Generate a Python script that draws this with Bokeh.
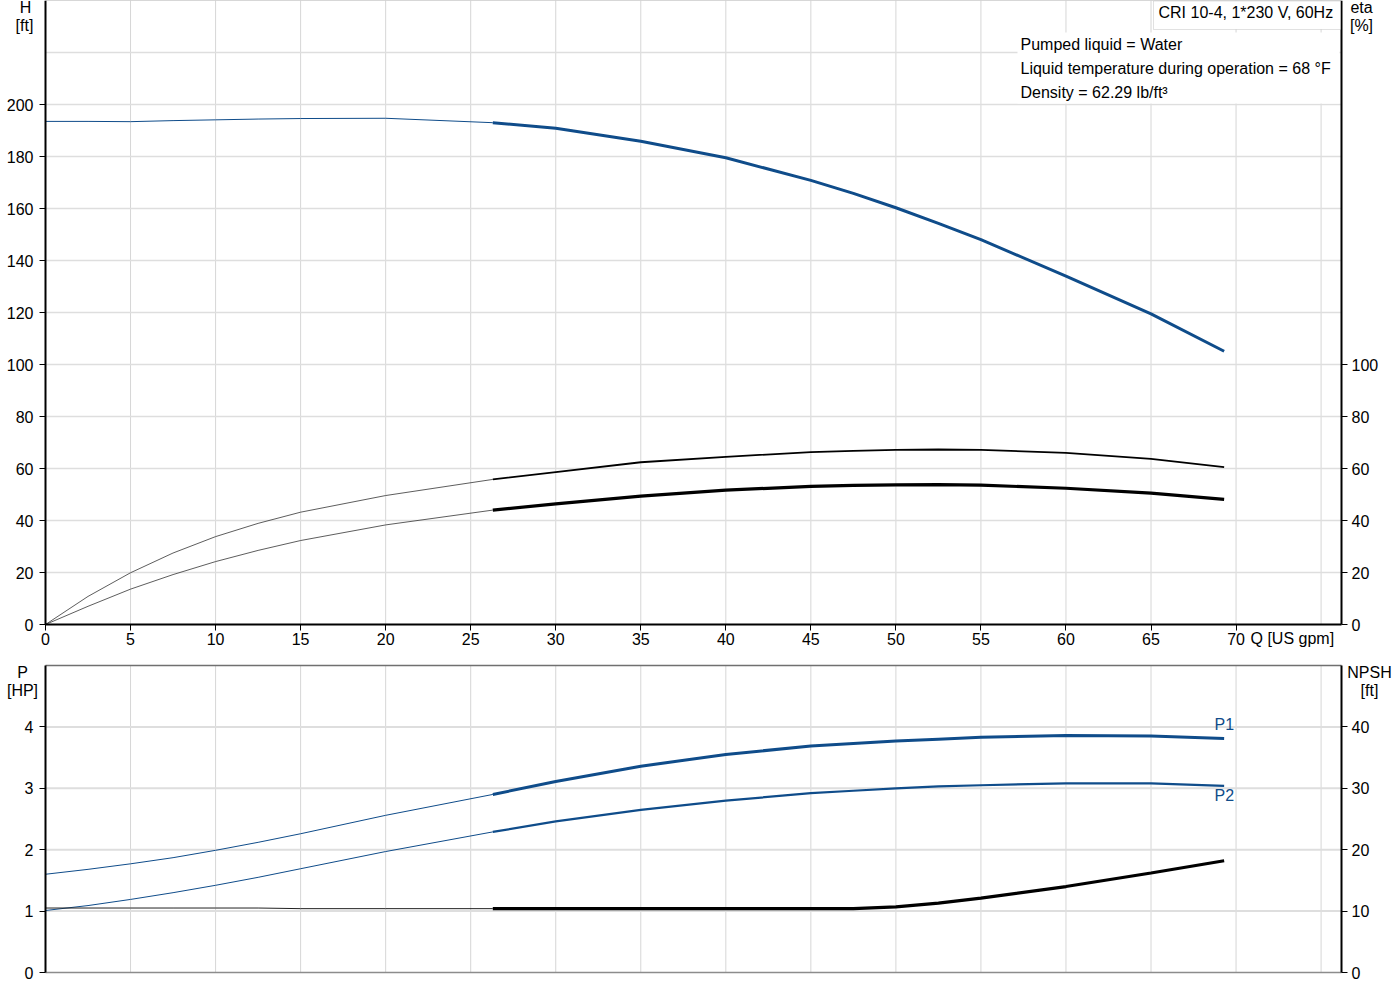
from bokeh.plotting import figure
from bokeh.models import Range1d, LinearAxis, FixedTicker, Label, BoxAnnotation
from bokeh.layouts import column
from bokeh.embed import file_html
from bokeh.resources import INLINE

# ---------------- data ----------------
q = [0, 2.5, 5, 7.5, 10, 12.5, 15, 20, 26.3, 30, 35, 40, 45, 47.5, 50, 52.5, 55, 60, 65, 69.3]
head_ft = [193.5, 193.5, 193.4, 193.8, 194.1, 194.4, 194.6, 194.7, 193.0, 190.9, 185.9, 179.5, 170.8,
           165.8, 160.3, 154.3, 148.0, 134.0, 119.5, 105.1]
eta_upper = [0, 10.8, 19.9, 27.5, 33.8, 38.9, 43.2, 49.6, 55.8, 58.6, 62.4, 64.5, 66.3,
             66.8, 67.2, 67.3, 67.2, 66.0, 63.7, 60.5]
eta_lower = [0, 7.0, 13.6, 19.2, 24.2, 28.5, 32.3, 38.3, 44.0, 46.4, 49.4, 51.7, 53.1,
             53.5, 53.7, 53.8, 53.6, 52.4, 50.5, 48.1]
p1_hp = [1.60, 1.68, 1.77, 1.87, 1.99, 2.12, 2.26, 2.56, 2.90, 3.11, 3.36, 3.55, 3.69,
         3.73, 3.77, 3.80, 3.83, 3.86, 3.85, 3.81]
p2_hp = [1.01, 1.09, 1.19, 1.30, 1.42, 1.55, 1.69, 1.97, 2.29, 2.46, 2.65, 2.80, 2.92,
         2.96, 3.00, 3.03, 3.05, 3.08, 3.08, 3.04]
npsh_ft = [10.5, 10.5, 10.5, 10.5, 10.5, 10.5, 10.4, 10.4, 10.4, 10.4, 10.4, 10.4, 10.4,
           10.4, 10.7, 11.3, 12.1, 14.0, 16.2, 18.2]
op_start = 26.3  # start of the bold (operating) part of each curve

x_ticks = [0, 5, 10, 15, 20, 25, 30, 35, 40, 45, 50, 55, 60, 65, 70]
x_grid = [5, 10, 15, 20, 25, 30, 35, 40, 45, 50, 55, 60, 65, 70, 75]
h_ticks = [0, 20, 40, 60, 80, 100, 120, 140, 160, 180, 200]
h_grid = [20, 40, 60, 80, 100, 120, 140, 160, 180, 200, 220]
eta_ticks = [0, 20, 40, 60, 80, 100]
p_ticks = [0, 1, 2, 3, 4]
p_grid = [1, 2, 3, 4]
npsh_ticks = [0, 10, 20, 30, 40]

title_text = "CRI 10-4, 1*230 V, 60Hz"
info_lines = ["Pumped liquid = Water",
              "Liquid temperature during operation = 68 \u00b0F",
              "Density = 62.29 lb/ft\u00b3"]

FONT = "Liberation Sans"
FS = "16px"
BLUE = "#0f4c8a"
GRID = "#d6d6d6"
HGRID = "#dedede"

k = q.index(op_start)

# ---------------- ranges and geometry (screen px -> data) ----------------
X0, X1 = 0, 76.2          # Q range of the plot box
H_TOP = 240               # H / eta range top
P_TOP = 5                 # P range top (NPSH = 10 x)
W = 1395
H1, H2 = 654, 338
SX = 1296 / (X1 - X0)


def tx(px):
    return (px - 45) / SX


def ty_top(py):
    return (624 - py) / 2.6


def ty_bot(py):  # py in page pixels
    return (972 - py) / 61.4


def add_label(p, x, y, text, align="left", color="#000000", range_name="default"):
    p.add_layout(Label(x=x, y=y, text=text, text_font=FONT, text_font_size=FS,
                       text_align=align, text_baseline="middle", text_color=color,
                       y_range_name=range_name))


def make_axis(ticks, loc, bounds, range_name="default", standoff=4):
    if range_name == "x":
        ax = LinearAxis(fixed_location=loc, bounds=bounds)
    else:
        ax = LinearAxis(fixed_location=loc, bounds=bounds, y_range_name=range_name)
    ax.ticker = FixedTicker(ticks=ticks)
    ax.axis_line_color = "#000000"
    ax.axis_line_width = 2
    ax.major_tick_line_color = "#000000"
    ax.major_tick_in = 0
    ax.major_tick_out = 6
    ax.minor_tick_line_color = None
    ax.major_label_text_font = FONT
    ax.major_label_text_font_size = FS
    ax.major_label_text_color = "#000000"
    ax.major_label_standoff = standoff
    return ax


def base_fig(height, y0, y1):
    p = figure(width=W, height=height, x_range=Range1d(tx(0), tx(W)), y_range=Range1d(y0, y1),
               x_axis_type=None, y_axis_type=None, output_backend="svg", toolbar_location=None,
               title=None, min_border=0, min_border_left=0, min_border_right=0,
               min_border_top=0, min_border_bottom=0)
    p.outline_line_color = None
    p.background_fill_color = "white"
    p.border_fill_color = "white"
    return p


# ---------------- top panel: H and eta ----------------
top = base_fig(H1, ty_top(H1), ty_top(0))
top.extra_y_ranges = {"eta": Range1d(ty_top(H1), ty_top(0))}

# grid
top.segment(x0=x_grid, y0=[0] * len(x_grid), x1=x_grid, y1=[H_TOP] * len(x_grid),
            line_color=GRID, line_width=1)
top.segment(x0=[X0] * len(h_grid), y0=h_grid, x1=[X1] * len(h_grid), y1=h_grid,
            line_color=HGRID, line_width=1.5)
top.segment(x0=[X0], y0=[H_TOP], x1=[X1], y1=[H_TOP], line_color="#b0b0b0", line_width=1)

# H curve
top.line(q[:k + 1], head_ft[:k + 1], line_color=BLUE, line_width=1)
top.line(q[k:], head_ft[k:], line_color=BLUE, line_width=3)
# eta curves
top.line(q[:k + 1], eta_upper[:k + 1], line_color="#333333", line_width=0.8, y_range_name="eta")
top.line(q[k:], eta_upper[k:], line_color="#000000", line_width=1.8, y_range_name="eta")
top.line(q[:k + 1], eta_lower[:k + 1], line_color="#333333", line_width=0.8, y_range_name="eta")
top.line(q[k:], eta_lower[k:], line_color="#000000", line_width=3.2, y_range_name="eta")

top.add_layout(make_axis(h_ticks, X0, (0, H_TOP), standoff=6), "left")
top.add_layout(make_axis(eta_ticks, X1, (0, H_TOP), "eta"), "right")
top.add_layout(make_axis(x_ticks, 0, (X0, X1), "x", standoff=2), "below")

# info box & title box
top.add_layout(BoxAnnotation(left=tx(1017), right=tx(1339), bottom=ty_top(103), top=ty_top(32),
                             fill_color="white", fill_alpha=1, line_alpha=0))
top.add_layout(BoxAnnotation(left=tx(1153), right=tx(1340), bottom=ty_top(29), top=ty_top(0.5),
                             fill_color="white", fill_alpha=1, line_color="#9a9a9a", line_width=1))
add_label(top, tx(1158), ty_top(12), title_text)
for i, t in enumerate(info_lines):
    add_label(top, tx(1020), ty_top(44 + 24 * i), t)

# axis titles
add_label(top, tx(25), ty_top(7), "H", align="center")
add_label(top, tx(24), ty_top(25), "[ft]", align="center")
add_label(top, tx(1361), ty_top(7), "eta", align="center")
add_label(top, tx(1361), ty_top(25), "[%]", align="center")
add_label(top, tx(1250), ty_top(638), "Q [US gpm]")

# ---------------- bottom panel: P and NPSH ----------------
bot = base_fig(H2, ty_bot(H1 + H2), ty_bot(H1))
bot.extra_y_ranges = {"npsh": Range1d(ty_bot(H1 + H2) * 10, ty_bot(H1) * 10)}

bot.segment(x0=x_grid, y0=[0] * len(x_grid), x1=x_grid, y1=[P_TOP] * len(x_grid),
            line_color=GRID, line_width=1)
bot.segment(x0=[X0] * len(p_grid), y0=p_grid, x1=[X1] * len(p_grid), y1=p_grid,
            line_color=HGRID, line_width=2)
bot.segment(x0=[X0], y0=[P_TOP], x1=[X1], y1=[P_TOP], line_color="#707070", line_width=1.5)
bot.segment(x0=[X0], y0=[0], x1=[X1], y1=[0], line_color="#8c8c8c", line_width=1.5)

bot.line(q[:k + 1], p1_hp[:k + 1], line_color=BLUE, line_width=1)
bot.line(q[k:], p1_hp[k:], line_color=BLUE, line_width=3)
bot.line(q[:k + 1], p2_hp[:k + 1], line_color=BLUE, line_width=1)
bot.line(q[k:], p2_hp[k:], line_color=BLUE, line_width=2.2)
bot.line(q[:k + 1], npsh_ft[:k + 1], line_color="#222222", line_width=1, y_range_name="npsh")
bot.line(q[k:], npsh_ft[k:], line_color="#000000", line_width=3.2, y_range_name="npsh")

bot.add_layout(make_axis(p_ticks, X0, (0, P_TOP), standoff=6), "left")
bot.add_layout(make_axis(npsh_ticks, X1, (0, P_TOP * 10), "npsh"), "right")

add_label(bot, tx(1214), ty_bot(724), "P1", color=BLUE)
add_label(bot, tx(1214), ty_bot(795), "P2", color=BLUE)
add_label(bot, tx(22), ty_bot(672), "P", align="center")
add_label(bot, tx(22), ty_bot(690), "[HP]", align="center")
add_label(bot, tx(1369), ty_bot(672), "NPSH", align="center")
add_label(bot, tx(1369), ty_bot(690), "[ft]", align="center")

layout = column(top, bot)

open("out.html", "w").write(file_html(layout, INLINE))
